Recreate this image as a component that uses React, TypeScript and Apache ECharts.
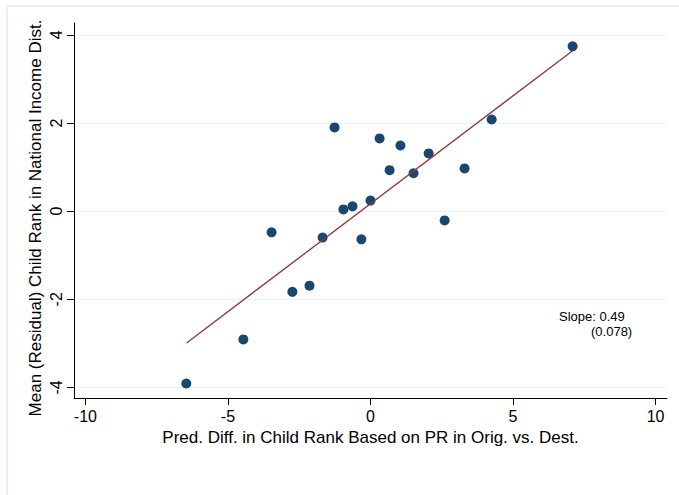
import React, { useEffect, useRef } from "react";
import * as echarts from "echarts";

const xValues = [7.09, 4.25, -1.26, 0.32, 1.05, 2.04, 3.3, 0.67, 1.51, 0.0, -0.63, -0.95, 2.6, -3.47, -1.68, -0.32, -2.14, -2.74, -4.46, -6.46];
const yValues = [3.74, 2.08, 1.9, 1.65, 1.49, 1.31, 0.97, 0.93, 0.86, 0.24, 0.11, 0.04, -0.21, -0.48, -0.6, -0.64, -1.69, -1.83, -2.91, -3.91];
const fitLine = [[-6.45, -2.99], [7.09, 3.64]];
const xTicks = [-10, -5, 0, 5, 10];
const yTicks = [-4, -2, 0, 2, 4];
const xTitle = "Pred. Diff. in Child Rank Based on PR in Orig. vs. Dest.";
const yTitle = "Mean (Residual) Child Rank in National Income Dist.";
const slopeText = "Slope: 0.49";
const seText = "(0.078)";

const FONT = "'Liberation Sans', Arial, Helvetica, sans-serif";

export default function App() {
  const ref = useRef<HTMLDivElement>(null);
  useEffect(() => {
    if (!ref.current) return;
    const chart = echarts.init(ref.current, undefined, { renderer: "svg" });
    const points = xValues.map((x, i) => [x, yValues[i]]);
    chart.setOption({
      animation: false,
      backgroundColor: "#ffffff",
      textStyle: { fontFamily: FONT },
      grid: { left: 74, top: 23, right: 12, bottom: 97, containLabel: false },
      xAxis: {
        type: "value",
        min: -10.4,
        max: 10.4,
        name: xTitle,
        nameLocation: "middle",
        nameGap: 27,
        nameTextStyle: { fontSize: 17, color: "#000", fontFamily: FONT },
        axisLine: { show: true, onZero: false, lineStyle: { color: "#000", width: 1 } },
        axisTick: { show: true, length: 7, customValues: xTicks, lineStyle: { color: "#000" } },
        axisLabel: { customValues: xTicks, fontSize: 16, color: "#000", margin: 10, fontFamily: FONT },
        splitLine: { show: false },
      },
      yAxis: {
        type: "value",
        min: -4.24,
        max: 4.27,
        axisLine: { show: true, onZero: false, lineStyle: { color: "#000", width: 1 } },
        axisTick: { show: true, length: 7, customValues: yTicks, lineStyle: { color: "#000" } },
        axisLabel: { customValues: yTicks, rotate: 90, fontSize: 16, color: "#000", margin: 10, fontFamily: FONT },
        splitLine: { show: true, lineStyle: { color: "#eaf2f3", width: 1 } },
      },
      graphic: [
        {
          type: "rect",
          silent: true,
          shape: { x: 7, y: 6, width: 720, height: 560 },
          style: { fill: "none", stroke: "#e9eff1", lineWidth: 2 },
          z: -10,
        },
        {
          type: "text",
          x: 35,
          y: 218,
          rotation: Math.PI / 2,
          style: {
            text: yTitle,
            fontSize: 17,
            fill: "#000",
            fontFamily: FONT,
            align: "center",
            verticalAlign: "middle",
          },
        },
        {
          type: "text",
          left: 559,
          top: 310,
          style: { text: slopeText, fontSize: 13, fill: "#000", fontFamily: FONT },
        },
        {
          type: "text",
          left: 591,
          top: 325,
          style: { text: seText, fontSize: 13, fill: "#000", fontFamily: FONT },
        },
      ],
      series: [
        {
          type: "scatter",
          data: points,
          symbol: "circle",
          symbolSize: 10,
          itemStyle: { color: "#1a476f", opacity: 1 },
          z: 2,
        },
        {
          type: "line",
          data: fitLine,
          showSymbol: false,
          symbol: "none",
          lineStyle: { color: "#90353b", width: 1.3 },
          z: 3,
        },
      ],
    });
    return () => chart.dispose();
  }, []);
  return (
    <div
      ref={ref}
      style={{ position: "fixed", left: 0, top: 0, width: 679, height: 495, background: "#fff" }}
    />
  );
}
